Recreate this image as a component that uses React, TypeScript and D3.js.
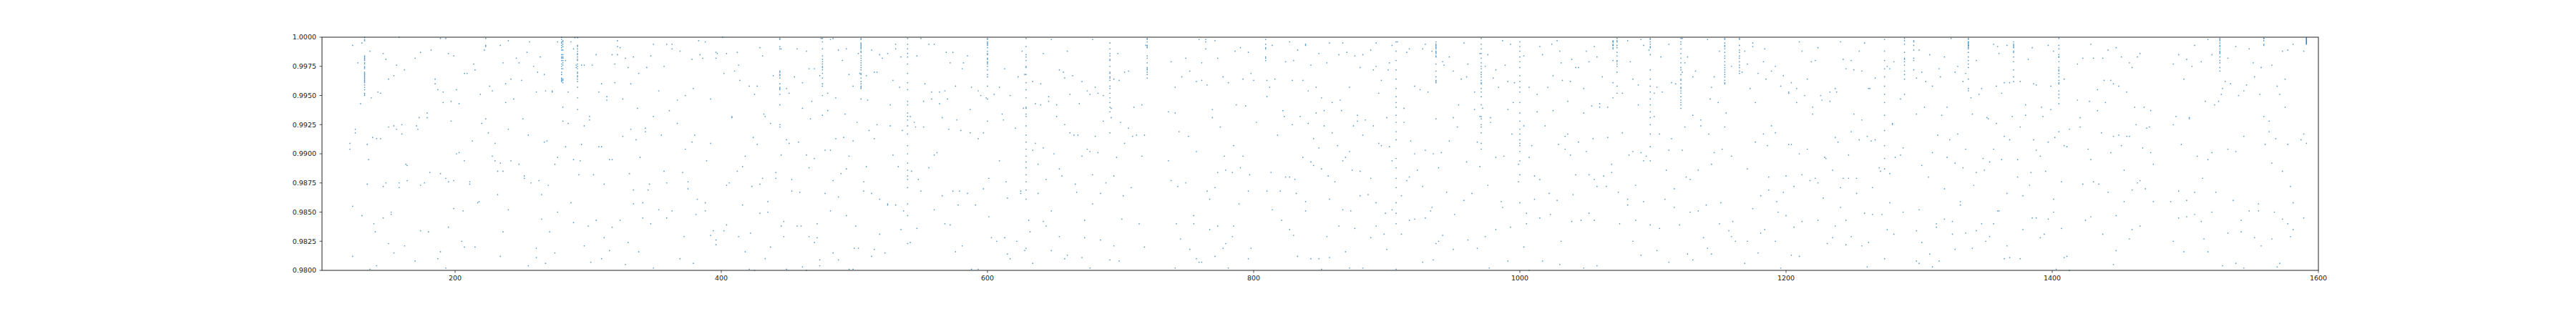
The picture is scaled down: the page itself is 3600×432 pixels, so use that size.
import React from "react";
import * as d3 from "d3";

// ---- axis settings ----
const xDomain: [number, number] = [100, 1600];
const yDomain: [number, number] = [0.98, 1.0];
const xTickValues = [200, 400, 600, 800, 1000, 1200, 1400, 1600];
const yTickValues = [0.98, 0.9825, 0.985, 0.9875, 0.99, 0.9925, 0.995, 0.9975, 1.0];

// ---- vertical runs of points sharing one frame ----
const columnFrames = [132, 280, 281, 292, 444, 476, 505, 540, 600, 629, 692, 720, 809, 907, 937, 971, 1000, 1070, 1073, 1098, 1121, 1154, 1165, 1274, 1289, 1296, 1337, 1371, 1405, 1526, 1559, 1591];
const columnScores: number[][] = [
  [0.99998, 0.9998, 0.9997, 0.9984, 0.9983, 0.9982, 0.9981, 0.998, 0.9978, 0.9977, 0.9975, 0.9974, 0.9973, 0.997, 0.9969, 0.9968, 0.9967, 0.9966, 0.9965, 0.9964, 0.9963, 0.9962, 0.9961, 0.9959, 0.9957, 0.9955, 0.9952, 0.9951, 0.995],
  [0.99998, 0.9998, 0.9996, 0.9995, 0.9993, 0.9991, 0.9989, 0.9985, 0.9983, 0.9982, 0.998, 0.9977, 0.9975, 0.9973, 0.997, 0.9968, 0.9965, 0.9964, 0.9963, 0.9962],
  [0.9997, 0.9996, 0.9994, 0.9992, 0.9989, 0.9985, 0.9983, 0.9982, 0.998, 0.9978, 0.9976, 0.9973, 0.9964, 0.9963, 0.9961, 0.994, 0.9928],
  [0.99996, 0.9993, 0.9992, 0.999, 0.9988, 0.9986, 0.9985, 0.9983, 0.9981, 0.998, 0.9977, 0.9975, 0.9973, 0.997, 0.9969, 0.9967, 0.9966, 0.9964, 0.9962, 0.9957, 0.9948, 0.9938],
  [0.9999, 0.9998, 0.9992, 0.999, 0.9971, 0.997, 0.9968, 0.9967, 0.9965, 0.996, 0.9957, 0.9956, 0.9955, 0.9951, 0.9942, 0.9925, 0.9923],
  [0.9999, 0.9996, 0.999, 0.9984, 0.9981, 0.9979, 0.9977, 0.9975, 0.9974, 0.9972, 0.9969, 0.9965, 0.996, 0.9958, 0.995, 0.9933],
  [0.9999, 0.9998, 0.9995, 0.9994, 0.9993, 0.9992, 0.9991, 0.999, 0.9988, 0.9987, 0.9984, 0.9982, 0.998, 0.9978, 0.9976, 0.9974, 0.9972, 0.9969, 0.9968, 0.9965, 0.9962, 0.996, 0.9958, 0.9957, 0.9956, 0.9947],
  [0.9999, 0.9994, 0.999, 0.9986, 0.9983, 0.9977, 0.9969, 0.9961, 0.9955, 0.9945, 0.9942, 0.9935, 0.9932, 0.9929, 0.9924, 0.9917, 0.9907, 0.99, 0.9892, 0.9886, 0.9881, 0.9878, 0.9871, 0.9857, 0.9847, 0.9823],
  [0.9999, 0.9998, 0.9996, 0.9995, 0.9994, 0.9993, 0.9991, 0.9988, 0.9986, 0.9985, 0.9982, 0.9981, 0.9979, 0.9978, 0.9977, 0.9975, 0.9972, 0.9968, 0.9966, 0.9958],
  [0.9999, 0.9992, 0.9985, 0.9983, 0.998, 0.9975, 0.9974, 0.9968, 0.9961, 0.9955, 0.9948, 0.994, 0.9939, 0.9934, 0.9932, 0.9924, 0.9916, 0.991, 0.9904, 0.9898, 0.9893, 0.9888, 0.9882, 0.9876, 0.9869, 0.9861],
  [0.9995, 0.999, 0.9986, 0.9984, 0.9981, 0.998, 0.9975, 0.997, 0.9969, 0.9966, 0.9965, 0.9963, 0.9958, 0.9956, 0.9952, 0.9948, 0.9944, 0.994, 0.9936, 0.9918],
  [0.9999, 0.9998, 0.9996, 0.9993, 0.9992, 0.9991, 0.9984, 0.9982, 0.9978, 0.9974, 0.9973, 0.9972, 0.997, 0.9968, 0.9965],
  [0.9998, 0.9994, 0.9991, 0.999, 0.9983, 0.9982, 0.998],
  [0.9996, 0.9988, 0.998, 0.9972, 0.9964, 0.9956, 0.9949, 0.9944, 0.994, 0.9933, 0.9927, 0.9919, 0.9912, 0.9896, 0.9888, 0.9879, 0.9871, 0.9858, 0.9849, 0.984, 0.9801],
  [0.9996, 0.9994, 0.9993, 0.9992, 0.9991, 0.999, 0.9988, 0.9987, 0.9986, 0.9984, 0.9983, 0.9977, 0.9971, 0.9966, 0.9963, 0.9962, 0.9961],
  [0.9999, 0.9994, 0.999, 0.9986, 0.9982, 0.9978, 0.9975, 0.9973, 0.997, 0.9968, 0.9966, 0.9963, 0.9961, 0.996, 0.9956, 0.9953, 0.9949, 0.9942, 0.9932, 0.993, 0.9925, 0.9923, 0.9918, 0.9909, 0.9904],
  [0.9996, 0.9992, 0.9988, 0.9983, 0.9979, 0.9974, 0.9967, 0.9962, 0.9957, 0.9953, 0.9944, 0.9935, 0.9928, 0.9921, 0.9917, 0.9912, 0.9909, 0.9907, 0.9902, 0.9894, 0.9882, 0.9858],
  [0.9997, 0.9996, 0.9996, 0.9994, 0.9993, 0.9993, 0.9991, 0.999, 0.998, 0.9961, 0.9948],
  [0.9999, 0.9997, 0.9996, 0.9993, 0.9991, 0.9987, 0.9984, 0.998, 0.9979, 0.9977, 0.9975, 0.997, 0.9958, 0.9952],
  [0.9999, 0.9998, 0.9996, 0.9994, 0.9992, 0.9991, 0.9985, 0.9972, 0.9964, 0.9958, 0.9953, 0.9947, 0.9942, 0.9936, 0.9931, 0.9925, 0.9917, 0.9906, 0.9894, 0.9839],
  [0.9999, 0.9996, 0.9994, 0.999, 0.9986, 0.9982, 0.9978, 0.9974, 0.9972, 0.9968, 0.9964, 0.9963, 0.996, 0.9957, 0.9956, 0.9954, 0.9952, 0.9949, 0.9946, 0.9944, 0.9942, 0.9939],
  [0.9999, 0.9998, 0.9995, 0.9993, 0.9992, 0.999, 0.9987, 0.9984, 0.9982, 0.9979, 0.9976, 0.9974, 0.9972, 0.997, 0.9968, 0.9966, 0.9963, 0.9961, 0.996],
  [0.9999, 0.9998, 0.9993, 0.9989, 0.9987, 0.9984, 0.9982, 0.9979, 0.9976, 0.9974, 0.9971, 0.9969],
  [0.9998, 0.9988, 0.998, 0.9973, 0.9966, 0.9958, 0.9951, 0.9944, 0.9933, 0.992, 0.9907, 0.9896, 0.9887],
  [0.9999, 0.9997, 0.9994, 0.9987, 0.9982, 0.9981, 0.9979, 0.9976, 0.9971, 0.9968, 0.9964, 0.9951],
  [0.9997, 0.9996, 0.9993, 0.9989, 0.9982, 0.998, 0.9972],
  [0.9999, 0.9998, 0.9996, 0.9996, 0.9995, 0.9994, 0.9993, 0.9993, 0.9992, 0.9991, 0.999, 0.9987, 0.9983, 0.998, 0.9977, 0.9974, 0.9964, 0.9956, 0.9954],
  [0.9996, 0.9994, 0.9993, 0.9992, 0.9991, 0.9988, 0.9987, 0.9983, 0.9979, 0.9972, 0.9966, 0.9962],
  [0.9999, 0.9993, 0.999, 0.9985, 0.9983, 0.9983, 0.9979, 0.9974, 0.9972, 0.9971, 0.9969, 0.9966, 0.9963, 0.9961, 0.996, 0.9954, 0.9951, 0.9948, 0.9943, 0.9919],
  [0.9999, 0.9998, 0.9997, 0.9995, 0.9993, 0.9992, 0.999, 0.9988, 0.9987, 0.9986, 0.9983, 0.998, 0.9978, 0.9974, 0.9971],
  [0.9999, 0.9999, 0.9997, 0.9994, 0.9993],
  [0.99995, 0.9999, 0.99985, 0.9998, 0.99975, 0.9997, 0.99965, 0.9996, 0.99955, 0.9995, 0.99945, 0.9994],
];

// ---- scattered points, [frame, score] ----
const scatter100to340: [number, number][] = [
  [123,0.9993],[130,0.9995],[127,0.9978],[129,0.9943],[121,0.9909],[121,0.9904],[125,0.9921],[125,0.9918],[123,0.9855],[130,0.9847],[123,0.9812],
  [136,0.9988],[137,0.9948],[134,0.9908],[135,0.9895],[134,0.9874],[138,0.9914],[139,0.984],[140,0.9833],[136,0.9801],[141,0.9804],
  [142,0.9953],[144,0.9952],[141,0.9913],[144,0.9913],[146,0.9986],[148,0.9981],[150,0.9964],[150,0.9923],[146,0.9872],[148,0.9875],[146,0.9845],[152,0.985],[152,0.9848],[150,0.9823],[154,0.9815],
  [156,0.9976],[154,0.9967],[154,0.9924],[156,0.9921],[158,1.0],[162,0.9972],[160,0.9925],[160,0.9917],[158,0.9875],[158,0.9871],[163,0.9891],[164,0.989],[164,0.9877],[162,0.9821],
  [170,0.9982],[174,0.9987],[171,0.9924],[172,0.9921],[173,0.9931],[179,0.9935],[179,0.9931],[174,0.9873],[177,0.9875],[181,0.9884],[180,0.9833],[174,0.9834],[170,0.9808],
  [182,0.9989],[185,0.9964],[185,0.996],[187,0.9955],[191,0.9953],[191,0.9944],[189,0.9999],[193,0.9999],[195,0.9986],[199,0.9984],[197,0.9928],[197,0.9945],[189,0.9883],[193,0.9879],[195,0.9876],[199,0.9877],[195,0.9837],[199,0.9853],[187,0.981],[189,0.9816],[193,0.9802],
  [201,0.9955],[203,0.9943],[201,0.99],[203,0.9901],[207,0.9969],[209,0.9969],[207,0.9894],[206,0.9851],[205,0.9825],[207,0.982],[211,0.9876],[211,0.9874],[213,0.9911],[214,0.9977],[215,0.9972],[217,0.9858],[218,0.9859],[215,0.982],[219,0.9951],[220,0.9926],
  [223,0.9999],[223,0.9993],[223,0.9992],[222,0.9989],[226,0.9958],[228,0.9954],[223,0.993],[225,0.9918],[228,0.9898],[230,0.9894],[230,0.9909],[232,0.9885],[232,0.9865],[234,0.9812],[234,0.9993],[236,0.9833],[236,0.9978],[236,0.9885],[234,0.9892],[238,0.9944],[238,0.996],[240,0.9921],[240,0.9852],[240,0.9997],[242,0.9964],[242,0.9894],[244,0.9947],[246,0.9982],[248,0.9978],[250,0.9963],[251,0.993],[248,0.9891],[252,0.9881],[252,0.9879],[254,0.9987],[255,0.9916],[256,0.9996],[257,0.9875],[255,0.9804],[261,0.9953],[259,0.9975],[261,0.9819],[261,0.9811],[262,0.997],[263,0.9877],[264,0.9983],[265,0.9865],[265,0.9844],[267,0.9968],[267,0.991],[269,0.9911],[268,0.9954],[270,0.9873],[271,0.9833],[268,0.9806],[273,0.9953],[273,0.9954],[275,0.9891],[275,0.9815],[277,0.9897],[277,0.9996],[277,0.985],
  [283,0.9906],[283,0.998],[285,0.9953],[285,0.9926],[287,0.9996],[287,0.9858],[289,0.999],[289,0.9895],[289,0.9841],[290,0.99996],[291,0.9976],[291,0.9974],
  [293,0.9882],[294,0.9894],[295,0.9976],[295,0.9908],[297,0.9976],[297,0.9924],[297,0.9821],[300,0.9838],[302,0.9807],[301,0.9932],[301,0.9929],[303,0.9976],[304,0.9882],[306,0.9985],[306,0.9843],[308,0.9953],[308,0.9906],[310,0.996],[310,0.9906],[310,0.981],[312,0.9874],[312,0.9828],[314,0.9949],[314,0.9946],[316,0.9817],[316,0.9895],[318,0.9985],[318,0.9895],[318,0.9837],[320,0.9961],[320,0.9977],[322,0.9997],[322,0.9992],[322,0.9985],[324,0.9991],[324,0.9843],[326,0.9947],[326,0.9915],[328,0.9982],[328,0.9805],[330,0.9974],[331,0.9883],[330,0.9824],[332,0.996],[332,0.9921],[334,0.9983],[334,0.9869],[334,0.9857],[336,0.9912],[337,0.9939],[338,0.9969],[339,0.9897],[338,0.9816],[341,0.9858],[341,0.9845],
];

const scatter340to557: [number, number][] = [
  [344,0.9974],[347,0.9984],[349,0.9994],[343,0.9922],[343,0.9919],[349,0.9932],[353,0.9954],[355,0.9916],[357,0.9975],[359,0.9994],[363,0.9994],[363,0.999],[361,0.9937],[367,0.9946],[367,0.9926],[369,0.9988],[373,0.995],[373,0.9904],[378,0.9981],[379,0.9956],[380,0.9916],[378,0.991],[383,0.9997],[384,0.9985],[386,0.9982],[388,0.9996],[392,0.9947],[392,0.9909],[389,0.9894],[396,0.9987],[397,0.9986],[396,0.9982],[401,1.0],[402,0.9969],[404,0.9986],[410,0.9971],[412,0.9987],[413,0.9976],[414,0.9963],[408,0.9932],[408,0.9931],
  [346,0.9874],[345,0.9869],[357,0.9885],[359,0.9875],[371,0.9884],[375,0.9876],[375,0.987],[382,0.9861],[388,0.9858],[388,0.9851],[381,0.9848],[363,0.9851],[359,0.9845],[353,0.9852],[347,0.984],[372,0.9829],[369,0.981],[379,0.9806],[349,0.9802],[392,0.983],[394,0.9834],[396,0.9826],[396,0.9822],[402,0.9834],[404,0.9839],[404,0.9873],[406,0.9875],[412,0.9885],[416,0.9889],[418,0.9898],[416,0.9856],[413,0.9829],[418,0.9816],
  [421,0.9958],[425,0.9951],[427,0.9958],[429,0.9991],[431,0.9984],[432,0.9934],[433,0.9932],[424,0.9914],[427,0.9908],[437,0.9926],[439,0.9967],[441,0.9884],[441,0.9879],[431,0.9879],[429,0.9874],[423,0.9872],[422,0.9832],[429,0.9849],[435,0.9859],[435,0.985],[437,0.982],[433,0.981],[421,0.9801],[425,0.98],
  [445,0.999],[445,0.9899],[445,0.9838],[447,0.9842],[447,0.9829],[449,0.9956],[451,0.9952],[449,0.9912],[451,0.9909],[449,0.9801],[453,0.9878],[453,0.9868],[455,0.9966],[457,0.999],[458,0.991],[459,0.9867],[460,0.9838],[457,0.9838],[461,0.9961],[461,0.9939],[464,0.9988],[464,0.9899],[466,0.9973],[466,0.9888],[468,0.9945],[467,0.993],[470,0.9973],[470,0.9896],[470,0.9824],[466,0.9829],[472,0.984],[472,0.9828],[461,0.9803],[464,0.98],[474,0.9809],[474,0.9804],[474,0.9967],
  [475,0.9999],[478,0.9903],[478,0.9866],[480,0.9937],[480,0.9952],[482,0.9903],[482,0.9998],[484,0.9999],[482,0.9851],[484,0.9877],[484,0.9815],[486,0.9948],[486,0.9913],[488,0.9989],[488,0.9863],[488,0.9809],[491,0.998],[490,0.9883],[492,0.9914],[493,0.9934],[494,0.999],[494,0.9887],[494,0.9847],[496,0.9968],[496,0.9898],[499,0.9958],[499,0.9911],[501,0.9838],[500,0.9819],[503,0.9819],[502,0.9927],[499,0.9801],[496,0.9801],
  [503,0.9986],[504,0.9969],[509,0.9967],[510,0.9946],[511,0.992],[507,0.9876],[507,0.9868],[509,0.9889],[513,0.9989],[513,0.9866],[515,0.9913],[515,0.997],[517,0.997],[517,0.9925],[515,0.9818],[513,0.9812],[519,0.9861],[519,0.9985],[521,0.9982],[519,0.9831],[523,0.9815],[525,0.9857],[525,0.9856],[525,0.9986],[527,0.9942],[527,0.9924],[529,0.9963],[529,0.9899],[531,0.9994],[531,0.999],[531,0.9856],[533,0.9889],[534,0.9957],[535,0.9983],[536,0.992],[535,0.9835],[537,0.9851],
  [542,0.9932],[542,0.9824],[543,0.9885],[545,0.9927],[546,0.9923],[547,0.9984],[548,0.9878],[550,0.9999],[550,0.9868],[547,0.9836],[552,0.9945],[552,0.9923],[553,0.996],[556,0.9888],[556,0.9994],
];

const scatter557to772: [number, number][] = [
  [560,0.9994],[558,0.9953],[558,0.9947],[564,0.9953],[568,0.9954],[570,0.9947],[564,0.9943],[569,0.9987],[574,0.9987],[572,0.9978],[581,0.9973],[582,0.9978],[585,0.9984],[576,0.9958],[566,0.9931],[571,0.9921],[577,0.9929],[580,0.992],[587,0.9938],[587,0.9918],[588,0.9957],[593,0.9954],[595,0.995],[593,0.9913],[597,0.9918],[599,0.9948],[600,0.9947],[600,0.9928],[605,0.9951],[609,0.9957],[611,0.9934],[612,0.9929],[613,0.9973],[617,0.995],[621,0.9922],[623,0.9966],[626,0.9988],[628,0.9968],
  [560,0.9899],[562,0.9901],[566,0.9864],[560,0.9852],[568,0.984],[572,0.9839],[574,0.9868],[579,0.9868],[578,0.9856],[581,0.9821],[576,0.9816],[585,0.9866],[591,0.9856],[597,0.987],[588,0.9801],[593,0.9801],[601,0.9879],[601,0.9846],[603,0.9828],[607,0.9825],[609,0.9894],[614,0.9876],[615,0.9862],[613,0.9828],[615,0.9814],[617,0.981],[622,0.9825],[625,0.9868],[625,0.9866],[628,0.9817],[629,0.9819],
  [627,0.9939],[631,0.9843],[632,0.9833],[634,0.9806],[634,0.9962],[636,0.9943],[636,0.9909],[634,0.9903],[638,0.9891],[638,0.9866],[640,0.996],[640,0.9942],[642,0.9986],[642,0.9905],[642,0.9842],[644,0.9878],[644,0.9838],[646,0.9949],[646,0.9945],[648,0.9998],[650,0.99],[652,0.9942],[652,0.9932],[654,0.9972],[654,0.9887],[656,0.9881],[657,0.997],[658,0.9965],[658,0.9925],[660,0.9988],[662,0.9951],[662,0.9918],[664,0.9967],[665,0.9916],[666,0.9874],[667,0.9867],[668,0.9916],[669,0.9943],[671,0.9898],[671,0.9962],[648,0.9851],[648,0.9817],[654,0.9829],[658,0.981],[660,0.9813],[671,0.9811],[673,0.9843],[673,0.9828],[675,0.9954],[675,0.9904],[677,0.9951],[677,0.9902],[679,0.9998],[679,0.9882],[679,0.9857],[681,0.9915],[681,0.9957],[683,0.9952],[683,0.9901],[685,0.9866],[685,0.9826],[677,0.9802],[687,0.995],[687,0.9928],[689,0.9875],
  [693,0.9939],[693,0.9931],[695,0.9964],[698,0.9986],[699,0.9963],[700,0.9927],[697,0.9897],[695,0.9881],[702,0.9864],[701,0.9844],[695,0.9821],[699,0.9808],[692,0.9809],[703,0.997],[706,0.9971],[703,0.9909],[706,0.9922],[708,0.9871],[709,0.9915],[710,0.994],[712,0.9916],[714,0.984],[716,0.9942],[716,0.9898],[718,0.9916],[718,0.982],
  [719,0.9993],[736,0.9936],[736,0.9894],[738,0.9979],[738,0.9877],[741,0.9957],[741,0.9935],[741,0.9802],[743,0.9872],[742,0.984],[744,0.9919],[745,0.9827],[746,0.9966],[749,0.9982],[749,0.9875],[751,0.9915],[752,0.9971],[752,0.9818],[755,0.984],[755,0.9847],[757,0.9902],[757,0.9962],[757,0.981],[759,0.9998],[759,0.9807],[761,0.9963],[761,0.9978],[761,0.9807],[764,0.9998],[764,0.9996],[764,0.999],[765,0.9959],[765,0.9868],[767,0.9861],[767,0.9835],[769,0.9938],[769,0.9931],[771,0.9997],[771,0.9871],[771,0.9812],
];

const scatter772to987: [number, number][] = [
  [773,0.9982],[777,0.9966],[781,0.9961],[786,0.9988],[790,0.9991],[796,0.9987],[787,0.9942],[794,0.9941],[775,0.9923],[798,0.9969],[800,0.9963],[802,0.9927],[792,0.9964],
  [814,0.9993],[810,0.9963],[812,0.9957],[810,0.9949],[816,0.9964],[818,0.9916],[822,0.9937],[823,0.9932],[824,0.9979],[827,0.9996],[829,0.9963],[830,0.998],[829,0.9925],[833,0.9989],[835,0.9932],[837,0.9963],[839,0.9994],[839,0.9993],[841,0.9926],[841,0.9954],[843,0.9976],[847,0.9957],[847,0.9935],[845,0.9913],[849,0.9986],[849,0.9905],[851,0.9948],[853,0.9937],[853,0.9924],[855,0.9978],[857,0.9995],[859,0.9944],[859,0.9918],[864,0.9985],[863,0.9907],[865,0.9946],[866,0.9937],[867,0.9995],[870,0.9987],[872,0.9957],[872,0.9902],[876,0.9984],[875,0.9924],[878,0.9933],[878,0.9928],[880,0.9974],[882,0.9985],[882,0.9916],[884,0.9929],[888,0.9989],[890,0.9972],[890,0.9924],[892,0.9995],[892,0.9975],[894,0.9952],[894,0.9909],[896,0.9963],[896,0.9907],[900,0.9931],[901,0.9972],[902,0.9978],[902,0.9906],[904,0.9993],[908,0.9996],
  [785,0.9907],[778,0.9898],[773,0.9884],[779,0.9886],[784,0.9884],[790,0.9888],[792,0.9898],[797,0.9882],[796,0.9868],[789,0.9857],[773,0.9838],[785,0.9838],[784,0.9829],[777,0.9819],[779,0.9823],[781,0.9802],[796,0.981],[798,0.9819],[810,0.9868],[813,0.9884],[814,0.9852],[820,0.9868],[821,0.9843],[824,0.988],[827,0.988],[831,0.9878],[827,0.9835],[830,0.983],[832,0.9866],[833,0.9812],[837,0.9897],[839,0.9859],[839,0.9851],[843,0.9893],[845,0.989],[843,0.981],[849,0.981],[851,0.9887],[851,0.9801],[856,0.9881],[857,0.9861],[857,0.9811],[855,0.9829],[861,0.9876],[864,0.9838],[867,0.9894],[869,0.9897],[867,0.9852],[869,0.9816],[872,0.9802],[874,0.9886],[873,0.9851],[876,0.9836],[880,0.9885],[880,0.9864],[882,0.9802],[886,0.9865],[888,0.9828],[888,0.9879],[892,0.9858],[892,0.9838],[898,0.9831],[899,0.9849],[900,0.9818],[904,0.9894],[904,0.9852],
  [913,0.9939],[913,0.9927],[911,0.9864],[911,0.9831],[915,0.9987],[915,0.9877],[917,0.999],[917,0.988],[917,0.9843],[918,0.9911],[921,0.9958],[921,0.99],[921,0.9844],[923,0.9886],[925,0.9955],[927,0.999],[927,0.9872],[927,0.9807],[929,0.9903],[929,0.9994],[929,0.9845],[931,0.9953],[933,0.9851],[934,0.9988],[934,0.9854],[935,0.99],[935,0.9809],[937,0.993],[937,0.9823],[939,0.9888],[939,0.9825],[941,0.9901],[942,0.9979],[942,0.983],[943,0.9976],[945,0.9867],[947,0.9983],[947,0.9911],[950,0.9971],[950,0.9931],[950,0.9818],[951,0.9848],[953,0.9923],[954,0.9942],[956,0.9964],[958,0.9995],[958,0.986],[960,0.9966],[960,0.9893],[961,0.9977],[961,0.9826],[964,0.9866],[966,0.9938],[966,0.9953],[968,0.9819],[968,0.991],[970,0.9986],[970,0.9889],[970,0.9932],[972,0.9939],[974,0.9975],[974,0.9829],[976,0.9873],[976,0.9985],[977,0.9802],[978,0.9931],[978,0.9927],[980,0.9965],[982,0.9972],[982,0.9897],[982,0.9835],[984,0.9957],[986,0.9859],[987,0.9854],[987,0.9997],
];

const scatter987to1202: [number, number][] = [
  [999,0.9891],[999,0.9876],
  [989,0.9976],[991,0.9962],[993,0.9994],[995,0.9944],[996,0.9961],[991,0.9938],[994,0.9917],[988,0.9898],[1003,0.9984],[1003,0.9924],[1007,0.9957],[1009,0.9907],[1007,0.9897],[1013,0.9951],[1013,0.9936],[1015,0.9992],[1017,0.9985],[1019,0.9924],[1021,0.9957],[1024,0.9994],[1025,0.9967],[1025,0.9937],[1028,0.9997],[1030,0.9988],[1031,0.9978],[1032,0.9963],[1029,0.9908],[1034,0.9915],[1034,0.9904],[1036,0.9945],[1036,0.9917],[1038,0.9962],[1038,0.9899],[1039,0.9981],[1042,0.9974],[1044,0.9974],[1044,0.991],[1048,0.9956],[1048,0.9935],[1050,0.9988],[1052,0.9979],[1054,0.9941],[1055,0.9913],[1056,0.9992],[1058,0.9983],[1060,0.9943],[1060,0.994],[1062,0.9966],[1066,0.994],[1066,0.9914],[1050,0.9902],
  [1011,0.9881],[1015,0.9878],[1022,0.9866],[1028,0.986],[1011,0.9861],[1005,0.9849],[1005,0.984],[1015,0.9845],[993,0.9837],[991,0.9808],[1003,0.982],[1007,0.98],[1017,0.9808],[1023,0.9848],[1030,0.9805],[1031,0.9825],[1039,0.9842],[1040,0.9865],[1042,0.9882],[1046,0.9843],[1048,0.9802],[1052,0.9882],[1052,0.9849],[1056,0.9878],[1056,0.9843],[1058,0.9872],[1058,0.9804],[1063,0.9881],[1065,0.9872],[1069,0.9891],[1069,0.9884],
  [1077,0.9952],[1077,0.9918],[1074,0.9867],[1075,0.984],[1081,0.9997],[1081,0.9861],[1081,0.9856],[1083,0.9979],[1085,0.9964],[1085,0.9902],[1082,0.9899],[1087,0.9873],[1087,0.9843],[1085,0.9825],[1089,0.9959],[1089,0.9942],[1091,0.9998],[1091,0.9901],[1093,0.9993],[1093,0.9859],[1095,0.9898],[1097,0.9989],[1093,0.9894],[1091,0.9813],[1101,0.9952],[1101,0.9932],[1103,0.9957],[1105,0.9917],[1106,0.9983],[1105,0.9836],[1103,0.9817],[1107,0.9953],[1110,0.9886],[1109,0.9861],[1112,0.9994],[1112,0.9903],[1112,0.9807],[1114,0.9913],[1114,0.9961],[1116,0.987],[1116,0.9854],[1117,0.996],[1120,0.9839],[1122,0.9999],[1122,0.997],[1122,0.9903],[1124,0.9978],[1124,0.9923],[1126,0.9983],[1125,0.988],[1128,0.9878],[1126,0.9814],[1128,0.985],[1130,0.9809],[1130,0.9933],[1130,0.9966],[1132,0.9971],[1134,0.9886],[1134,0.9851],[1136,0.9929],[1136,0.9924],[1138,0.9828],[1140,0.9856],[1141,0.9998],[1141,0.9819],[1142,0.9917],[1143,0.9947],[1144,0.9957],[1144,0.9891],[1144,0.9814],[1146,0.9966],[1146,0.9901],[1149,0.9944],
  [1150,0.9988],[1151,0.9858],[1150,0.984],[1152,0.9904],[1154,0.9923],[1155,0.9935],[1157,0.9834],[1159,0.9898],[1159,0.9829],[1159,0.9975],[1160,0.9842],[1162,0.9825],
  [1167,0.997],[1169,0.9988],[1169,0.9806],[1171,0.9977],[1171,0.9825],[1171,0.9887],[1173,0.9956],[1175,0.9992],[1175,0.9995],[1175,0.9853],[1177,0.9944],[1177,0.991],[1179,0.9969],[1179,0.9815],[1181,0.9864],[1181,0.9832],[1184,0.999],[1183,0.9979],[1183,0.9917],[1184,0.9835],[1185,0.9964],[1186,0.9907],[1187,0.988],[1187,0.9869],[1189,0.9971],[1189,0.9924],[1192,0.9975],[1192,0.9918],[1192,0.9825],[1193,0.9859],[1194,0.985],[1196,0.9958],[1196,0.9802],[1198,0.9967],[1198,0.9867],[1200,0.9881],[1200,0.9847],[1202,0.9952],[1202,0.9908],
];

const scatter1202to1417: [number, number][] = [
  [1204,0.9961],[1202,0.9953],[1208,0.9944],[1208,0.9956],[1210,0.9996],[1212,0.9988],[1214,0.995],[1216,0.9964],[1219,0.9979],[1220,0.994],[1220,0.9934],[1222,0.998],[1224,0.9991],[1226,0.995],[1227,0.9946],[1233,0.9953],[1233,0.9945],[1237,0.9956],[1238,0.9953],[1241,0.9996],[1243,0.9981],[1245,0.9973],[1249,0.998],[1251,0.9972],[1251,0.9934],[1255,0.9988],[1257,0.9971],[1257,0.9929],[1259,0.9995],[1262,0.9956],[1263,0.9956],[1267,0.9965],[1276,0.9975],[1278,0.9973],[1281,0.9979],[1286,0.9947],
  [1204,0.9908],[1210,0.99],[1216,0.9904],[1212,0.9882],[1206,0.9872],[1218,0.9877],[1222,0.9879],[1224,0.9875],[1229,0.9897],[1230,0.9896],[1235,0.9886],[1228,0.9862],[1237,0.9914],[1239,0.991],[1241,0.9871],[1243,0.9879],[1247,0.9899],[1247,0.9879],[1249,0.9919],[1253,0.9879],[1253,0.9866],[1255,0.9912],[1261,0.9915],[1264,0.9911],[1267,0.9912],[1265,0.9871],[1270,0.9888],[1271,0.9885],[1278,0.9883],[1280,0.9926],[1280,0.9925],[1282,0.9897],[1286,0.9899],[1288,0.9905],[1206,0.9837],[1212,0.9842],[1204,0.9813],[1210,0.9812],[1224,0.9843],[1231,0.9823],[1235,0.9828],[1237,0.9838],[1241,0.9854],[1245,0.9843],[1245,0.9822],[1249,0.9829],[1257,0.9821],[1259,0.9849],[1262,0.9824],[1261,0.9803],[1265,0.9848],[1272,0.9848],[1274,0.981],[1276,0.9835],[1278,0.9858],[1281,0.9831],[1288,0.985],
  [1298,0.9965],[1298,0.9934],[1300,0.9989],[1302,0.997],[1305,0.9962],[1304,0.994],[1302,0.989],[1307,0.988],[1308,0.9985],[1310,0.9958],[1310,0.9901],[1315,0.9973],[1316,0.9966],[1317,0.9933],[1319,0.9983],[1321,0.994],[1321,0.9897],[1314,0.9916],[1323,0.9912],[1327,0.9892],[1329,0.9917],[1329,0.9975],[1327,0.997],[1333,0.9962],[1333,0.9888],[1335,0.9969],[1335,0.9904],[1319,0.987],[1331,0.9859],[1331,0.9856],[1298,0.9834],[1300,0.9852],[1302,0.9824],[1298,0.9808],[1300,0.9806],[1308,0.9814],[1310,0.9803],[1313,0.984],[1313,0.9837],[1315,0.9808],[1319,0.9844],[1325,0.9842],[1325,0.9831],[1327,0.9818],[1335,0.9832],[1340,0.9819],[1324,0.9999],
  [1339,0.9948],[1340,0.9934],[1341,0.9873],[1343,0.998],[1343,0.9884],[1343,0.9834],[1345,0.9951],[1347,0.9956],[1347,0.984],[1348,0.9896],[1349,0.9886],[1350,0.9825],[1351,0.9931],[1352,0.993],[1353,0.9893],[1353,0.9829],[1356,0.9994],[1356,0.9904],[1356,0.984],[1358,0.9958],[1358,0.9926],[1359,0.9992],[1360,0.9986],[1359,0.9851],[1360,0.9851],[1362,0.9895],[1362,0.9952],[1364,0.9961],[1364,0.9915],[1366,0.9993],[1366,0.9866],[1366,0.9821],[1364,0.981],[1368,0.9961],[1368,0.9912],[1368,0.9811],[1370,0.9932],[1374,0.9895],[1374,0.988],[1376,0.9962],[1376,0.9923],[1376,0.981],[1378,0.9864],[1378,0.9835],[1380,0.9942],[1380,0.9933],[1382,0.9981],[1383,0.9873],[1384,0.9884],[1385,0.9991],[1385,0.9845],[1386,0.996],[1386,0.9912],[1388,0.9959],[1388,0.9903],[1388,0.9845],[1391,0.9898],[1391,0.9828],[1392,0.994],[1393,0.9932],[1394,0.9831],[1395,0.9885],[1397,0.9993],[1397,0.991],[1397,0.9844],[1399,0.9958],[1399,0.9938],[1401,0.9988],[1401,0.9861],[1401,0.985],[1402,0.9914],[1403,0.9801],[1407,0.9836],[1407,0.9876],[1409,0.9964],[1409,0.9907],[1409,0.9811],[1411,0.9906],[1411,0.9812],[1413,0.9921],[1413,0.98],
];

const scatter1417to1600: [number, number][] = [
  [1419,0.9977],[1423,0.9982],[1429,0.9994],[1431,0.9982],[1438,0.9982],[1442,0.9989],[1448,0.9991],[1452,0.9983],[1458,0.9978],[1460,0.9974],[1464,0.9983],[1466,0.9986],[1419,0.9946],[1428,0.9945],[1434,0.9955],[1439,0.9963],[1444,0.9963],[1446,0.996],[1450,0.9958],[1456,0.9953],[1440,0.9944],[1462,0.994],[1469,0.994],[1474,0.9937],[1434,0.9937],[1421,0.9931],[1421,0.9923],[1437,0.9918],[1446,0.9915],[1450,0.9916],[1456,0.9915],[1458,0.9915],[1463,0.9925],[1471,0.9922],[1473,0.9923],[1452,0.9907],[1427,0.9904],[1429,0.9895],[1444,0.9901],[1454,0.9886],[1468,0.9905],[1474,0.9901],[1476,0.9891],[1423,0.9874],[1431,0.9876],[1435,0.9874],[1442,0.9867],[1460,0.9869],[1464,0.9875],[1466,0.9877],[1470,0.987],[1454,0.9859],[1476,0.9859],[1425,0.9843],[1429,0.9846],[1438,0.9831],[1448,0.9847],[1460,0.9835],[1466,0.9838],[1458,0.9827],[1448,0.9817],[1446,0.9805],
  [1491,0.9977],[1495,0.9985],[1501,0.9981],[1499,0.9964],[1505,0.9975],[1507,0.9993],[1512,0.9979],[1493,0.9932],[1491,0.9925],[1503,0.9931],[1503,0.993],[1497,0.9908],[1515,0.9945],[1522,0.9942],[1517,0.9998],[1520,0.9985],[1509,0.9898],[1517,0.9895],[1520,0.9901],[1513,0.9879],[1495,0.9868],[1507,0.9867],[1523,0.9867],[1489,0.9859],[1501,0.986],[1495,0.9845],[1501,0.9846],[1507,0.9848],[1512,0.9842],[1520,0.985],[1491,0.9825],[1499,0.9816],[1514,0.9827],[1517,0.9816],
  [1527,0.9951],[1525,0.9945],[1528,0.9956],[1530,0.9962],[1532,0.9982],[1534,0.996],[1538,0.9992],[1540,0.995],[1544,0.9954],[1546,0.9959],[1532,0.9904],[1538,0.9902],[1544,0.9915],[1536,0.986],[1532,0.9832],[1542,0.9843],[1542,0.9833],[1528,0.9804],[1538,0.9806],[1544,0.9802],[1548,0.999],[1551,0.9978],[1552,0.9966],[1557,0.9974],[1556,0.9951],[1559,0.9932],[1563,0.9928],[1563,0.9919],[1560,0.9908],[1565,0.9976],[1565,0.9892],[1569,0.9958],[1571,0.9951],[1568,0.9913],[1573,0.9885],[1575,0.9964],[1575,0.994],[1577,0.9908],[1577,0.9989],[1573,0.9988],[1581,0.9994],[1579,0.9872],[1581,0.9858],[1548,0.9851],[1555,0.9857],[1555,0.9851],[1567,0.985],[1552,0.9828],[1557,0.9821],[1565,0.9827],[1573,0.9844],[1577,0.984],[1579,0.9829],[1581,0.9835],[1569,0.9803],[1571,0.9806],[1589,0.9988],[1589,0.9917],[1587,0.9912],[1591,0.9909],[1589,0.9845],
];

const W = 3600;
const H = 432;
const margin = { left: 450, right: 360, top: 52, bottom: 54 };

export default function App() {
  const x = d3.scaleLinear().domain(xDomain).range([margin.left, W - margin.right]);
  const y = d3.scaleLinear().domain(yDomain).range([H - margin.bottom, margin.top]);

  const columnPoints: [number, number][] = columnFrames.flatMap((f, i) =>
    columnScores[i].map((s) => [f, s] as [number, number])
  );
  const points: [number, number][] = [
    ...scatter100to340,
    ...scatter340to557,
    ...scatter557to772,
    ...scatter772to987,
    ...scatter987to1202,
    ...scatter1202to1417,
    ...scatter1417to1600,
    ...columnPoints,
  ];

  const fmt = d3.format(".4f");
  const x0 = margin.left;
  const x1 = W - margin.right;
  const y0 = H - margin.bottom;
  const y1 = margin.top;
  const font = "'DejaVu Sans', sans-serif";

  return (
    <svg
      width={W}
      height={H}
      style={{ position: "absolute", left: 0, top: 0, background: "#fff" }}
    >
      <rect x={0} y={0} width={W} height={H} fill="#fff" />
      <defs>
        <clipPath id="plot-clip">
          <rect x={x0} y={y1 - 1} width={x1 - x0} height={y0 - y1 + 2} />
        </clipPath>
      </defs>
      <g clipPath="url(#plot-clip)">
        {points.map(([f, s], i) => (
          <circle key={i} cx={x(f)} cy={y(s)} r={0.85} fill="#1f77b4" fillOpacity={0.75} />
        ))}
      </g>
      {/* spines */}
      <rect x={x0} y={y1} width={x1 - x0} height={y0 - y1} fill="none" stroke="#222" strokeWidth={1} />
      {/* x ticks */}
      {xTickValues.map((t) => (
        <g key={"xt" + t}>
          <line x1={x(t)} x2={x(t)} y1={y0} y2={y0 + 3.5} stroke="#222" strokeWidth={0.8} />
          <text x={x(t)} y={y0 + 13.5} textAnchor="middle" fontFamily={font} fontSize={9.5} fill="#222">
            {t}
          </text>
        </g>
      ))}
      {/* y ticks */}
      {yTickValues.map((t) => (
        <g key={"yt" + t}>
          <line x1={x0 - 3.5} x2={x0} y1={y(t)} y2={y(t)} stroke="#222" strokeWidth={0.8} />
          <text x={x0 - 8} y={y(t)} dy="0.35em" textAnchor="end" fontFamily={font} fontSize={9.5} fill="#222">
            {fmt(t)}
          </text>
        </g>
      ))}
    </svg>
  );
}
